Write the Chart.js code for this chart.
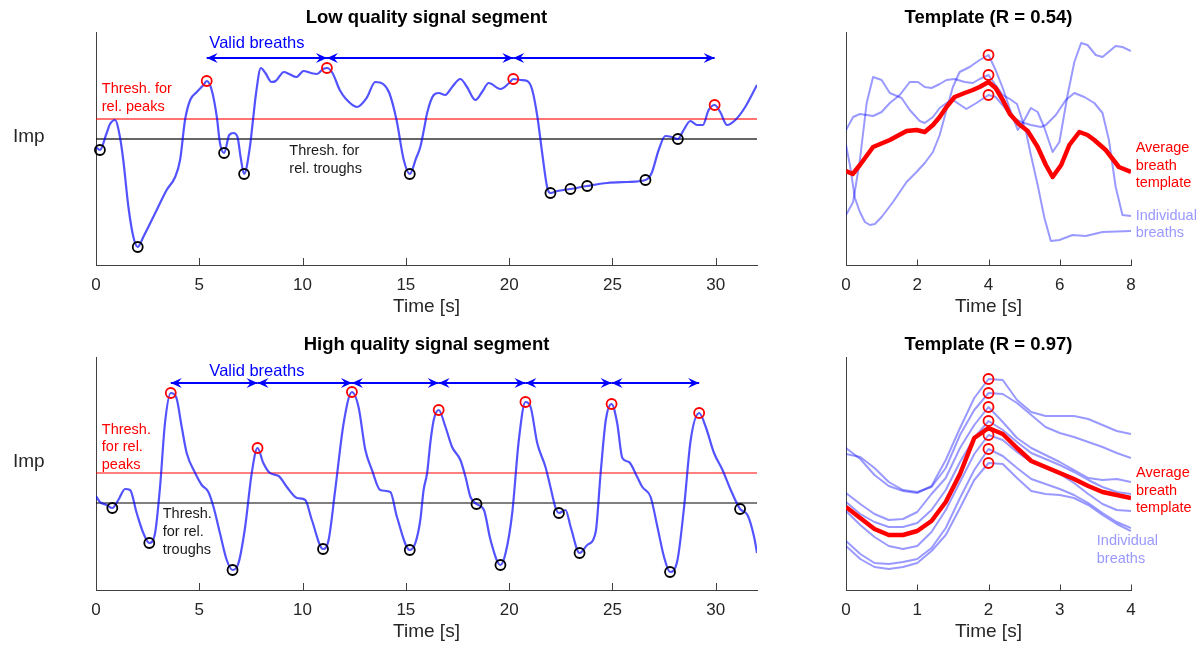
<!DOCTYPE html>
<html><head><meta charset="utf-8">
<script src="https://cdn.jsdelivr.net/npm/chart.js@4/dist/chart.umd.min.js"></script>
<style>
html,body{margin:0;padding:0;background:#fff;}
#wrap{position:relative;width:1204px;height:646px;overflow:hidden;background:#fff;}
canvas{position:absolute;}
</style></head><body>
<div id="wrap">
<canvas id="cTL" width="790" height="323" style="left:0;top:0"></canvas>
<canvas id="cTR" width="414" height="323" style="left:790px;top:0"></canvas>
<canvas id="cBL" width="790" height="323" style="left:0;top:325px"></canvas>
<canvas id="cBR" width="414" height="323" style="left:790px;top:325px"></canvas>
</div>
<script>
// ---------- DATA (time [s], impedance in arbitrary units) ----------
const lowSignal = [[0,118],[0.19,115],[0.5,131],[0.68,141],[0.92,145],[1.16,128],[1.32,105],[1.57,58],[1.81,28],[2.02,18],[2.29,28],[2.94,55],[3.42,75],[3.83,88],[4.07,105],[4.31,145],[4.56,165],[4.88,173],[5.2,180],[5.36,184],[5.6,175],[5.85,148],[6.0,122],[6.2,112],[6.45,130],[6.66,132],[6.85,128],[7.0,108],[7.17,91],[7.45,118],[7.6,145],[7.75,172],[7.98,197],[8.2,192],[8.5,183],[8.7,184],[9.1,193],[9.35,191],[9.7,188],[10.05,194],[10.4,192],[10.7,191],[11.0,196],[11.18,197],[11.45,192],[11.8,175],[12.1,166],[12.63,158],[13.1,167],[13.52,183],[13.9,181],[14.2,172],[14.55,145],[14.9,105],[15.19,91],[15.5,107],[15.7,118],[15.9,138],[16.03,152],[16.35,170],[16.59,172],[16.91,170],[17.24,178],[17.64,186],[17.96,178],[18.37,165],[18.69,173],[19.01,182],[19.58,176],[20.0,182],[20.2,186],[20.56,185],[20.88,184],[21.12,175],[21.37,148],[21.6,112],[21.85,77],[22.0,72],[22.33,74],[22.97,76],[23.78,79],[24.75,82],[25.72,83],[26.6,85],[26.9,92],[27.24,115],[27.56,129],[27.88,128],[28.17,126],[28.45,135],[28.77,144],[29.1,140],[29.38,140],[29.66,155],[29.95,160],[30.22,153],[30.55,140],[30.95,145],[31.43,158],[32.0,180]];
const lowPeaks = [[5.36,184],[11.18,197],[20.2,186],[29.95,160]];
const lowTroughs = [[0.19,115],[2.02,18],[6.2,112],[7.17,91],[15.19,91],[22.0,72],[22.97,76],[23.78,79],[26.6,85],[28.17,126]];
const lowThresholds = {peak: 146, trough: 126};
const lowBreaths = [[5.36,11.18],[11.18,20.2],[20.2,29.95]];

const highSignal = [[0,94],[0.19,88],[0.52,85],[0.79,82],[1.08,90],[1.41,101],[1.65,100],[1.97,77],[2.29,57],[2.58,47],[2.86,57],[3.1,103],[3.34,167],[3.62,197],[3.88,193],[4.15,163],[4.39,137],[4.8,117],[5.12,105],[5.44,98],[5.69,83],[6.0,57],[6.33,30],[6.61,20],[6.9,27],[7.22,63],[7.54,117],[7.82,142],[8.1,127],[8.42,117],[8.84,114],[9.24,103],[9.73,92],[10.13,90],[10.45,70],[10.99,41],[11.26,50],[11.58,100],[11.99,167],[12.39,198],[12.71,183],[13.04,140],[13.36,120],[13.76,100],[14.25,98],[14.57,73],[15.19,40],[15.46,47],[15.7,70],[15.86,100],[16.03,117],[16.19,148],[16.35,170],[16.59,180],[16.92,163],[17.24,143],[17.64,130],[17.89,113],[18.13,93],[18.42,86],[18.78,80],[19.1,50],[19.58,25],[19.83,37],[20.15,77],[20.47,150],[20.79,188],[21.04,183],[21.36,147],[21.76,123],[22.0,103],[22.25,82],[22.41,77],[22.73,80],[22.98,63],[23.41,37],[23.78,45],[24.19,58],[24.43,117],[24.68,170],[24.96,186],[25.23,167],[25.48,132],[25.8,128],[26.2,113],[26.45,103],[26.85,93],[27.18,63],[27.5,33],[27.79,18],[28.15,30],[28.47,83],[28.79,150],[29.2,177],[29.52,163],[29.92,137],[30.33,120],[30.73,100],[31.18,81],[31.54,75],[31.86,53],[32.0,37]];
const highPeaks = [[3.62,197],[7.82,142],[12.39,198],[16.59,180],[20.79,188],[24.96,186],[29.2,177]];
const highTroughs = [[0.79,82],[2.58,47],[6.61,20],[10.99,41],[15.19,40],[18.42,86],[19.58,25],[22.41,77],[23.41,37],[27.79,18],[31.18,81]];
const highThresholds = {peak: 117, trough: 87};
const highBreaths = [[3.62,7.82],[7.82,12.39],[12.39,16.59],[16.59,20.79],[20.79,24.96],[24.96,29.2]];

// Low-quality template (x = 0..8 s)
const lowTplBreathA = [[0,135],[0.2,148],[0.39,151],[0.76,149],[1.0,153],[1.23,162],[1.51,170],[1.79,183],[2.02,183],[2.21,178],[2.4,177],[2.63,181],[2.82,185],[3.05,186],[3.33,183],[3.56,182],[3.75,186],[4.0,190],[4.2,180],[4.4,170],[4.6,166],[4.8,161],[4.92,148],[5.06,132],[5.19,110],[5.38,80],[5.57,47],[5.75,24],[5.99,25],[6.36,30],[6.73,29],[7.2,33],[8.0,34]];
const lowTplBreathB = [[0,120],[0.11,100],[0.25,67],[0.39,53],[0.53,43],[0.67,40],[0.81,41],[1.0,48],[1.32,63],[1.7,83],[1.98,93],[2.21,102],[2.44,113],[2.63,130],[2.82,155],[3.0,178],[3.19,193],[3.47,198],[3.75,205],[4.0,210],[4.2,195],[4.4,177],[4.59,157],[4.82,135],[4.96,142],[5.19,157],[5.38,153],[5.57,137],[5.8,113],[5.99,123],[6.22,170],[6.41,203],[6.6,222],[6.78,220],[7.01,210],[7.2,208],[7.57,219],[7.76,218],[8.0,214]];
const lowTplBreathC = [[0,50],[0.2,63],[0.39,105],[0.58,162],[0.76,188],[1.0,185],[1.23,172],[1.56,167],[1.79,155],[2.07,144],[2.21,142],[2.44,148],[2.63,157],[2.86,163],[3.0,165],[3.38,156],[3.66,162],[4.0,170],[4.2,168],[4.44,158],[4.63,148],[4.92,143],[5.19,140],[5.47,138],[5.61,140],[5.89,150],[6.17,165],[6.41,172],[6.69,168],[6.97,162],[7.2,152],[7.38,125],[7.57,78],[7.76,50],[8.0,49]];
const lowTplAverage = [[0,94],[0.19,91],[0.39,100],[0.76,118],[1.23,125],[1.7,134],[1.98,135],[2.21,133],[2.44,140],[2.63,148],[2.82,158],[3.05,168],[3.33,172],[3.56,175],[3.75,178],[4.0,183],[4.2,177],[4.4,165],[4.6,151],[4.85,141],[5.1,134],[5.38,118],[5.61,100],[5.8,88],[6.04,100],[6.27,120],[6.55,133],[6.78,130],[6.97,125],[7.29,115],[7.66,98],[8.0,93]];
const lowTplPeaks = [[4,210],[4,190],[4,170]];

// High-quality template (x = 0..4 s, 0.2 s grid)
const highTplTime = [0,0.2,0.4,0.6,0.8,1.0,1.2,1.4,1.6,1.8,2.0,2.2,2.4,2.6,2.8,3.0,3.2,3.4,3.6,3.8,4.0];
const highTplB1 = [142,131,115,104,99,97,104,130,162,192,211,210,190,178,174,174,174,171,165,159,156];
const highTplB2 = [136,133,122,108,100,98,103,122,155,180,197,196,187,175,163,157,153,148,143,137,132];
const highTplB3 = [97,86,76,70,71,78,96,112,142,165,183,168,152,142,135,128,120,112,110,111,108];
const highTplB4 = [88,76,68,63,63,67,80,100,128,152,169,160,148,137,131,125,118,110,103,98,96];
const highTplB5 = [79,65,53,44,41,44,58,80,108,136,155,150,138,128,122,116,107,96,86,80,79];
const highTplB6 = [49,36,27,26,28,31,42,62,92,120,141,134,122,111,106,101,95,87,77,68,62];
const highTplB7 = [44,31,23,21,23,27,39,55,82,110,127,126,112,99,96,95,92,85,75,66,59];
const highTplAverage = [83,72,61,55,55,59,69,88,116,152,162,156,142,129,123,117,111,104,98,95,92];
const highTplPeaks = [211,197,183,169,155,141,127];

// ---------- STYLE ----------
const FONT = '"Liberation Sans", Arial, Helvetica, sans-serif';
const AXIS = '#404040';
const TICKC = '#262626';
const SIG = 'rgba(0,0,255,0.68)';
const LIGHT = 'rgba(0,0,255,0.4)';
const BLUE = '#0000ff';
const RED = '#ff0000';

const xy = arr => arr.map(p => ({x: p[0], y: p[1]}));
const zipT = (ts, vs) => ts.map((t, i) => ({x: t, y: vs[i]}));

function lineDs(data, color, width, extra) {
  return Object.assign({type: 'line', data, borderColor: color, borderWidth: width,
    pointRadius: 0, fill: false, tension: 0, borderJoinStyle: 'round'}, extra || {});
}
function circDs(data, color) {
  return {type: 'scatter', data, showLine: false, pointStyle: 'circle', pointRadius: 5,
    borderColor: color, backgroundColor: 'rgba(0,0,0,0)', borderWidth: 1.8, clip: false};
}

function annotPlugin(spec) {
  return {
    id: 'annot',
    afterDatasetsDraw(chart) {
      const ctx = chart.ctx, xs = chart.scales.x, ys = chart.scales.y, ca = chart.chartArea;
      ctx.save();
      // inward tick marks
      ctx.strokeStyle = AXIS; ctx.lineWidth = 1;
      xs.ticks.forEach(t => {
        const px = Math.round(xs.getPixelForValue(t.value)) + 0.5;
        ctx.beginPath(); ctx.moveTo(px, ca.bottom); ctx.lineTo(px, ca.bottom - spec.tickLen); ctx.stroke();
      });
      // arrow heads
      ctx.fillStyle = BLUE;
      (spec.arrows || []).forEach(a => {
        const y = ys.getPixelForValue(spec.arrowY);
        [[xs.getPixelForValue(a[0]), -1], [xs.getPixelForValue(a[1]), 1]].forEach(([x, dir]) => {
          const L = 11, H = 5, N = 7;
          ctx.beginPath(); ctx.moveTo(x, y); ctx.lineTo(x - dir * L, y - H);
          ctx.lineTo(x - dir * N, y); ctx.lineTo(x - dir * L, y + H); ctx.closePath(); ctx.fill();
        });
      });
      // texts
      ctx.textBaseline = 'middle';
      (spec.texts || []).forEach(t => {
        ctx.font = (t.size || 14.5) + 'px ' + FONT;
        ctx.fillStyle = t.color; ctx.textAlign = t.align || 'left';
        ctx.fillText(t.text, xs.getPixelForValue(t.x), ys.getPixelForValue(t.y));
      });
      if (spec.ylabel) {
        ctx.font = '19px ' + FONT; ctx.fillStyle = TICKC; ctx.textAlign = 'left';
        ctx.fillText(spec.ylabel, ca.left - 83, 137);
      }
      ctx.restore();
    }
  };
}

function baseOptions(o) {
  return {
    responsive: false, animation: false, events: [],
    layout: {padding: {left: o.left, right: o.right, top: 0, bottom: 0}},
    plugins: {
      legend: {display: false}, tooltip: {enabled: false},
      title: {display: true, text: o.title, color: '#000',
        font: {family: FONT, size: 18.5, weight: 'bold', lineHeight: '22px'},
        padding: {top: o.titleTop, bottom: 10 - o.titleTop}}
    },
    scales: {
      x: {type: 'linear', min: o.xmin, max: o.xmax,
        grid: {display: false, drawTicks: false},
        border: {display: true, color: AXIS, width: 1},
        ticks: {stepSize: o.step, includeBounds: false, padding: 10, color: TICKC,
          maxRotation: 0, autoSkip: false, font: {family: FONT, size: 17}},
        title: {display: true, text: 'Time [s]', color: TICKC, font: {family: FONT, size: 19},
          padding: {top: 0, bottom: 5}},
        afterFit(s) { s.height = 58; }},
      y: {type: 'linear', min: 0, max: 233,
        grid: {display: false, drawTicks: false},
        border: {display: true, color: AXIS, width: 1},
        ticks: {display: false},
        afterFit(s) { s.width = 0; }}
    }
  };
}

// ---------- Top-left: low quality ----------
(function () {
  const ds = [
    circDs(xy(lowPeaks), RED),
    circDs(xy(lowTroughs), '#000'),
    lineDs(xy(lowSignal), SIG, 2.2, {cubicInterpolationMode: 'monotone'}),
  ];
  lowBreaths.forEach(b => ds.push(lineDs([{x: b[0], y: 207}, {x: b[1], y: 207}], BLUE, 2)));
  ds.push(lineDs([{x: 0, y: lowThresholds.peak}, {x: 32, y: lowThresholds.peak}], 'rgba(255,0,0,0.55)', 2));
  ds.push(lineDs([{x: 0, y: lowThresholds.trough}, {x: 32, y: lowThresholds.trough}], 'rgba(0,0,0,0.6)', 2));
  new Chart(document.getElementById('cTL'), {
    type: 'line', data: {datasets: ds},
    options: baseOptions({left: 96, right: 33, title: 'Low quality signal segment', titleTop: 7, xmin: 0, xmax: 32, step: 5}),
    plugins: [annotPlugin({tickLen: 7, arrowY: 207, arrows: lowBreaths, ylabel: 'Imp', texts: [
      {text: 'Valid breaths', x: 7.79, y: 222, color: BLUE, size: 16.5, align: 'center'},
      {text: 'Thresh. for', x: 0.28, y: 176, color: RED},
      {text: 'rel. peaks', x: 0.28, y: 158, color: RED},
      {text: 'Thresh. for', x: 9.36, y: 114, color: '#1a1a1a'},
      {text: 'rel. troughs', x: 9.36, y: 96, color: '#1a1a1a'}
    ]})]
  });
})();

// ---------- Top-right: low quality template ----------
(function () {
  const ds = [
    circDs(xy(lowTplPeaks), RED),
    lineDs(xy(lowTplAverage), RED, 4.5),
    lineDs(xy(lowTplBreathA), LIGHT, 2),
    lineDs(xy(lowTplBreathB), LIGHT, 2),
    lineDs(xy(lowTplBreathC), LIGHT, 2)
  ];
  new Chart(document.getElementById('cTR'), {
    type: 'line', data: {datasets: ds},
    options: baseOptions({left: 56, right: 73, title: 'Template (R = 0.54)', titleTop: 7, xmin: 0, xmax: 8, step: 2}),
    plugins: [annotPlugin({tickLen: 5.5, texts: [
      {text: 'Average', x: 8.13, y: 117.3, color: RED},
      {text: 'breath', x: 8.13, y: 99.3, color: RED},
      {text: 'template', x: 8.13, y: 81.7, color: RED},
      {text: 'Individual', x: 8.13, y: 49, color: '#9999ff'},
      {text: 'breaths', x: 8.13, y: 31.7, color: '#9999ff'}
    ]})]
  });
})();

// ---------- Bottom-left: high quality ----------
(function () {
  const ds = [
    circDs(xy(highPeaks), RED),
    circDs(xy(highTroughs), '#000'),
    lineDs(xy(highSignal), SIG, 2.2, {cubicInterpolationMode: 'monotone'}),
  ];
  highBreaths.forEach(b => ds.push(lineDs([{x: b[0], y: 207}, {x: b[1], y: 207}], BLUE, 2)));
  ds.push(lineDs([{x: 0, y: highThresholds.peak}, {x: 32, y: highThresholds.peak}], RED, 1));
  ds.push(lineDs([{x: 0, y: highThresholds.trough}, {x: 32, y: highThresholds.trough}], '#000', 1));
  new Chart(document.getElementById('cBL'), {
    type: 'line', data: {datasets: ds},
    options: baseOptions({left: 96, right: 33, title: 'High quality signal segment', titleTop: 8.5, xmin: 0, xmax: 32, step: 5}),
    plugins: [annotPlugin({tickLen: 7, arrowY: 207, arrows: highBreaths, ylabel: 'Imp', texts: [
      {text: 'Valid breaths', x: 7.79, y: 218.3, color: BLUE, size: 16.5, align: 'center'},
      {text: 'Thresh.', x: 0.28, y: 160, color: RED},
      {text: 'for rel.', x: 0.28, y: 142.7, color: RED},
      {text: 'peaks', x: 0.28, y: 125, color: RED},
      {text: 'Thresh.', x: 3.23, y: 76, color: '#1a1a1a'},
      {text: 'for rel.', x: 3.23, y: 58, color: '#1a1a1a'},
      {text: 'troughs', x: 3.23, y: 40, color: '#1a1a1a'}
    ]})]
  });
})();

// ---------- Bottom-right: high quality template ----------
(function () {
  const ds = [
    circDs(highTplPeaks.map(v => ({x: 2, y: v})), RED),
    lineDs(zipT(highTplTime, highTplAverage), RED, 4.5),
  ];
  [highTplB1, highTplB2, highTplB3, highTplB4, highTplB5, highTplB6, highTplB7].forEach(b =>
    ds.push(lineDs(zipT(highTplTime, b), LIGHT, 2)));
  new Chart(document.getElementById('cBR'), {
    type: 'line', data: {datasets: ds},
    options: baseOptions({left: 56, right: 73, title: 'Template (R = 0.97)', titleTop: 8.5, xmin: 0, xmax: 4, step: 1}),
    plugins: [annotPlugin({tickLen: 5.5, texts: [
      {text: 'Average', x: 4.07, y: 116.7, color: RED},
      {text: 'breath', x: 4.07, y: 99, color: RED},
      {text: 'template', x: 4.07, y: 81.7, color: RED},
      {text: 'Individual', x: 3.52, y: 49, color: '#9999ff'},
      {text: 'breaths', x: 3.52, y: 31, color: '#9999ff'}
    ]})]
  });
})();
</script>
</body></html>
